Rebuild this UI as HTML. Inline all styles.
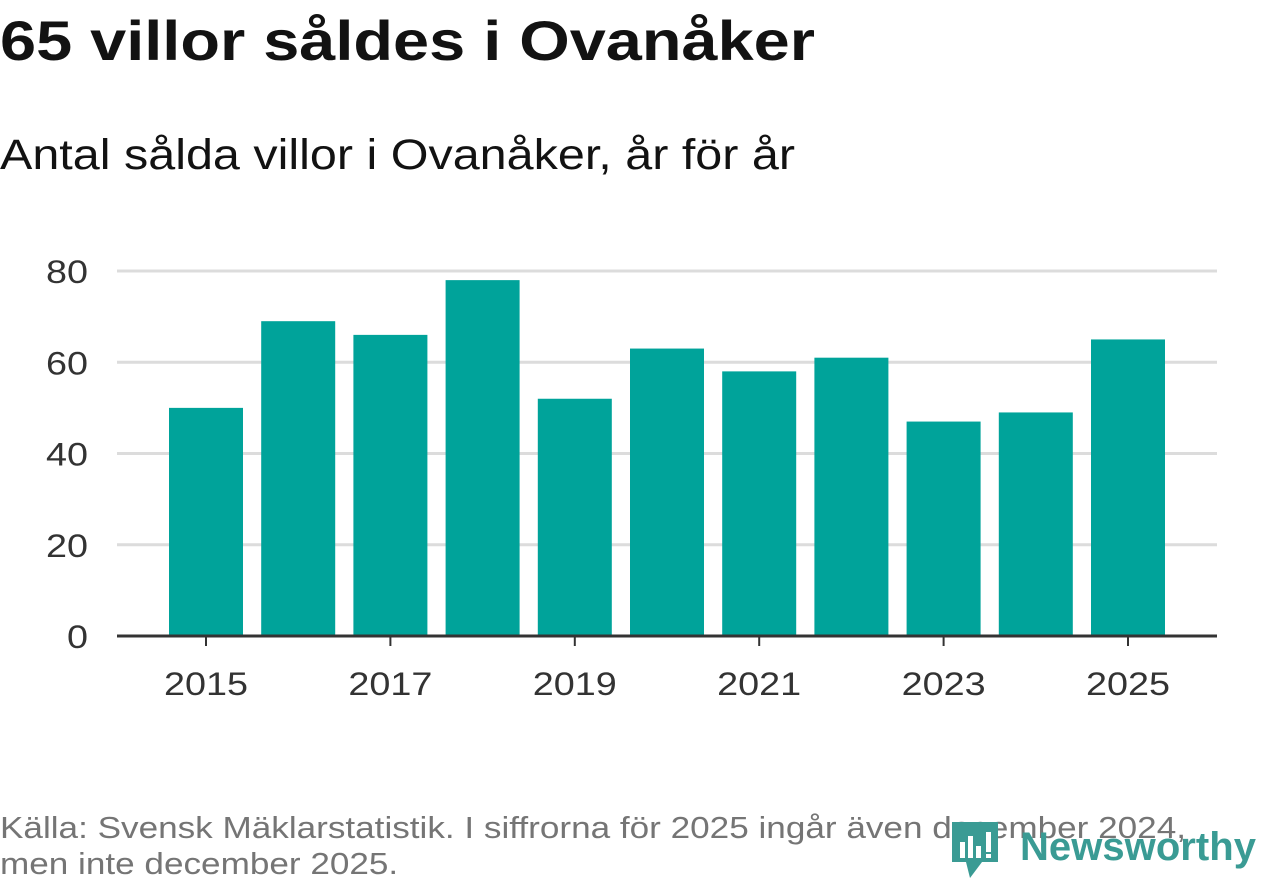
<!DOCTYPE html>
<html><head><meta charset="utf-8"><style>
body{margin:0;width:1262px;height:879px;background:#fff;font-family:"Liberation Sans","DejaVu Sans",sans-serif;overflow:hidden;position:relative}
.t{position:absolute;left:0;white-space:nowrap;transform-origin:0 0}
</style></head><body>
<div class="t" id="title" style="top:8px;font-size:56px;font-weight:bold;color:#121212">65 villor såldes i Ovanåker</div>
<div class="t" id="sub" style="top:131px;font-size:43px;color:#121212">Antal sålda villor i Ovanåker, år för år</div>
<svg width="1262" height="879" style="position:absolute;left:0;top:0">
<g id="grid"></g><g id="bars"></g><g id="axis"></g>
</svg>
<div class="t" id="foot" style="top:810px;font-size:31px;line-height:36px;color:#757575"><span id="f1">Källa: Svensk Mäklarstatistik. I siffrorna för 2025 ingår även december 2024,</span><br><span>men inte december 2025.</span></div>
<svg width="1262" height="879" style="position:absolute;left:0;top:0;pointer-events:none">
<g>
<path d="M952 822h46v40h-16l-12 16-4-16h-14z" fill="#3a9b94"/>
<rect x="960" y="842" width="5" height="16" fill="#fff"/><rect x="968" y="836" width="5" height="22" fill="#fff"/><rect x="976" y="846" width="5" height="12" fill="#fff"/><rect x="986" y="832" width="5" height="20" fill="#fff"/><rect x="986" y="854" width="5" height="4" fill="#fff"/>
<text x="1020" y="860" font-size="40" font-weight="bold" fill="#3a9b94" textLength="236" font-family="Liberation Sans, sans-serif">Newsworthy</text>
</g>
</svg>
<script>
const years=[2015,2016,2017,2018,2019,2020,2021,2022,2023,2024,2025];
const values=[50,69,66,78,52,63,58,61,47,49,65];
const yTicks=[0,20,40,60,80];
const ns="http://www.w3.org/2000/svg";
const y0=636,yScale=365/80,x0=206,step=92.2,bw=74;
const y=v=>y0-v*yScale, x=i=>x0+i*step;
function mk(t,a,p,txt){const e=document.createElementNS(ns,t);for(const k in a)e.setAttribute(k,a[k]);if(txt!==undefined)e.textContent=txt;document.getElementById(p).appendChild(e);return e;}
yTicks.forEach(v=>{
 if(v>0){const g=mk('line',{x1:117,x2:1217,y1:y(v),y2:y(v),stroke:'#dcdcdc','stroke-width':3},'grid');
 
 }
 const s=String(v);
 const t=mk('text',{x:88,y:y(v)+12,'font-size':32,fill:'#333','text-anchor':'end',textLength:21*s.length,lengthAdjust:'spacingAndGlyphs'},'grid',s);
 
 
});
values.forEach((v,i)=>{
 const r=mk('rect',{x:x(i)-bw/2,y:y(v),width:bw,height:y0-y(v),fill:'#00a39a'},'bars');
 
 
});
const ax=mk('line',{x1:117,x2:1217,y1:y0,y2:y0,stroke:'#333','stroke-width':3},'axis');


years.forEach((yr,i)=>{
 if(yr%2===0)return;
 const tk=mk('line',{x1:x(i),x2:x(i),y1:y0,y2:y0+10,stroke:'#333','stroke-width':2},'axis');
 
 
 const t=mk('text',{x:x(i),y:y0+59,'font-size':32,fill:'#333','text-anchor':'middle',textLength:84,lengthAdjust:'spacingAndGlyphs'},'axis',String(yr));
 
 
});
function fit(id,w,ref){const e=document.getElementById(id);const m=(ref?document.getElementById(ref):e).getBoundingClientRect().width;e.style.transform='scaleX('+(w/m)+')';}
fit('title',815);fit('sub',795);fit('foot',1186,'f1');
</script>
</body></html>
